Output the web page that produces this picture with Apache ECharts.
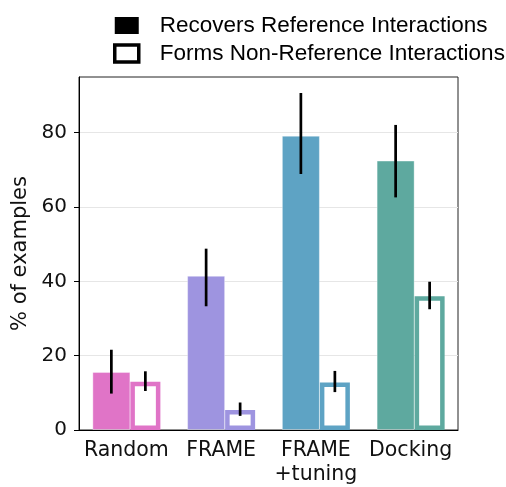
<!DOCTYPE html>
<html>
<head>
<meta charset="utf-8">
<script src="https://cdn.jsdelivr.net/npm/echarts@6/dist/echarts.min.js"></script>
<style>
html, body { margin: 0; padding: 0; background: #fff; }
#chart { width: 506px; height: 487px; }
</style>
</head>
<body>
<div id="chart"></div>
<script>
var categories = ['Random', 'FRAME', 'FRAME\n+tuning', 'Docking'];
var colors = ['#e074c7', '#9e94e0', '#5ea3c4', '#5ea99f'];

var recovers = [15.6, 41.5, 79.2, 72.5];
var recoversLow = [9.8, 33.3, 68.9, 62.6];
var recoversHigh = [21.6, 48.8, 90.7, 82.1];

var nonRef = [13.0, 5.4, 12.8, 36.0];
var nonRefLow = [10.5, 3.8, 10.2, 32.5];
var nonRefHigh = [15.8, 7.4, 15.9, 39.9];

var yTicks = [0, 20, 40, 60, 80];

var W_FILLED = 38,
    W_HOLLOW = 30;
var total = W_FILLED + W_HOLLOW;
var offFilled = -total / 2 + W_FILLED / 2,
    offHollow = -total / 2 + W_FILLED + W_HOLLOW / 2;

function errSeries(low, high, off) {
    var data = low.map(function(v, i) {
        return [i, v, high[i]];
    });
    return {
        type: 'custom',
        z: 10,
        silent: true,
        data: data,
        renderItem: function(params, api) {
            var a = api.coord([api.value(0), api.value(1)]);
            var b = api.coord([api.value(0), api.value(2)]);
            return {
                type: 'line',
                shape: { x1: a[0] + off, y1: a[1], x2: b[0] + off, y2: b[1] },
                style: { stroke: '#000', lineWidth: 2.7 }
            };
        }
    };
}

var chart = echarts.init(document.getElementById('chart'));
var option = {
    animation: false,
    textStyle: { fontFamily: 'DejaVu Sans' },
    grid: { left: 79, top: 77, right: 48, bottom: 53.5, show: true, borderColor: '#222', borderWidth: 1 },
    legend: {
        orient: 'vertical',
        left: 108,
        top: 9,
        itemWidth: 24,
        itemHeight: 17,
        itemGap: 5,
        textStyle: { fontFamily: 'Liberation Sans', fontSize: 22.5, color: '#000', padding: [0, 0, 0, 16] },
        data: [
            { name: 'Recovers Reference Interactions', icon: 'rect', itemStyle: { color: '#000', borderWidth: 0 } },
            { name: 'Forms Non-Reference Interactions', icon: 'rect', itemStyle: { color: '#fff', borderColor: '#000', borderWidth: 3.5 } }
        ]
    },
    xAxis: {
        type: 'category',
        data: categories,
        axisLine: { lineStyle: { color: '#000', width: 1 } },
        axisTick: { alignWithLabel: true, length: 5, lineStyle: { color: '#000' } },
        axisLabel: { interval: 0, fontSize: 20.5, color: '#111', margin: 9, lineHeight: 24 }
    },
    yAxis: {
        type: 'value',
        min: 0,
        max: 95,
        interval: 20,
        name: '% of examples',
        nameLocation: 'middle',
        nameGap: 43,
        nameTextStyle: { fontSize: 21, color: '#111' },
        axisLine: { show: true, lineStyle: { color: '#000', width: 1 } },
        axisTick: { show: true, length: 5, customValues: yTicks, lineStyle: { color: '#000' } },
        axisLabel: {
            fontSize: 20,
            color: '#111',
            margin: 12,
            customValues: yTicks
        },
        splitLine: { lineStyle: { color: '#e6e6e6', width: 1 } }
    },
    series: [{
        name: 'Recovers Reference Interactions',
        type: 'bar',
        barWidth: W_FILLED,
        barGap: '0%',
        data: recovers.map(function(v, i) {
            return { value: v, itemStyle: { color: colors[i], borderColor: 'rgba(255,255,255,0.35)', borderWidth: 1 } };
        })
    }, {
        name: 'Forms Non-Reference Interactions',
        type: 'bar',
        barWidth: W_HOLLOW,
        barGap: '0%',
        data: nonRef.map(function(v, i) {
            return { value: v, itemStyle: { color: '#fff', borderColor: colors[i], borderWidth: 4.5 } };
        })
    },
    errSeries(recoversLow, recoversHigh, offFilled),
    errSeries(nonRefLow, nonRefHigh, offHollow)
    ]
};
chart.setOption(option);
</script>
</body>
</html>
